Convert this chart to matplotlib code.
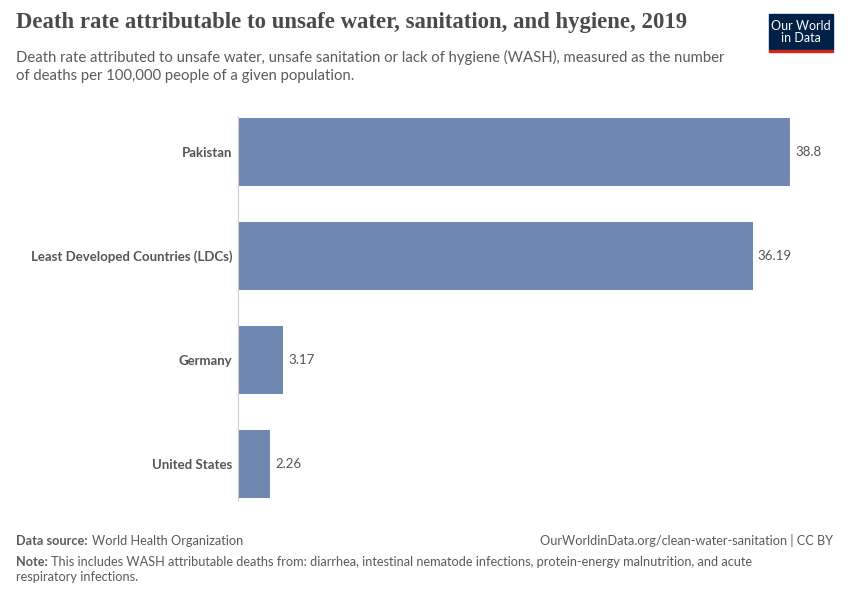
import matplotlib.pyplot as plt
from matplotlib.patches import Rectangle

countries = ['Pakistan', 'Least Developed Countries (LDCs)', 'Germany', 'United States']
death_rates = [38.8, 36.19, 3.17, 2.26]
value_labels = ['38.8', '36.19', '3.17', '2.26']

fig = plt.figure(figsize=(8.5, 6), dpi=100)
ax = fig.add_axes([0.28, 0.166, 0.6494, 0.6413])

ypos = list(range(len(countries)))
ax.barh(ypos, death_rates, height=0.654, color='#6f88b0')
ax.set_xlim(0, 38.8)
ax.set_ylim(3.35, -0.35)

for y, v, lab in zip(ypos, death_rates, value_labels):
    ax.text(v + 0.35, y, lab, va='center', ha='left', fontsize=9.5,
            color='#555555', family='Lato')

ax.set_yticks(ypos)
ax.set_yticklabels(countries, fontsize=9.5, color='#555555', family='Lato',
                   fontweight='bold')
ax.tick_params(axis='y', length=0, pad=4)
ax.set_xticks([])
for s in ['top', 'right', 'bottom']:
    ax.spines[s].set_visible(False)
ax.spines['left'].set_color('#cccccc')

fig.text(16 / 850, 1 - 28 / 600, 'Death rate attributable to unsafe water, sanitation, and hygiene, 2019',
         fontsize=16.4, fontweight='bold', family='Liberation Serif', color='#4a4a4a',
         va='baseline')
fig.text(16 / 850, 1 - 62 / 600,
         'Death rate attributed to unsafe water, unsafe sanitation or lack of hygiene (WASH), measured as the number',
         fontsize=10.7, family='Lato', color='#5b5b5b', va='baseline')
fig.text(16 / 850, 1 - 80 / 600, 'of deaths per 100,000 people of a given population.',
         fontsize=10.7, family='Lato', color='#5b5b5b', va='baseline')

# footer
fs = 9.2
fig.text(16 / 850, 1 - 545 / 600, 'Data source:', fontsize=fs, family='Lato',
         color='#5b5b5b', va='baseline', fontweight='bold')
fig.text(92 / 850, 1 - 545 / 600, 'World Health Organization', fontsize=fs, family='Lato',
         color='#5b5b5b', va='baseline')
fig.text(833 / 850, 1 - 545 / 600, 'OurWorldinData.org/clean-water-sanitation | CC BY',
         fontsize=fs, family='Lato', color='#5b5b5b', va='baseline', ha='right')
fig.text(16 / 850, 1 - 566 / 600, 'Note:', fontsize=fs, family='Lato', color='#5b5b5b',
         va='baseline', fontweight='bold')
fig.text(51 / 850, 1 - 566 / 600,
         'This includes WASH attributable deaths from: diarrhea, intestinal nematode infections, '
         'protein-energy malnutrition, and acute',
         fontsize=fs, family='Lato', color='#5b5b5b', va='baseline')
fig.text(16 / 850, 1 - 581 / 600, 'respiratory infections.',
         fontsize=fs, family='Lato', color='#5b5b5b', va='baseline')

# logo
fig.patches.append(Rectangle((769 / 850, 1 - 50 / 600), 64 / 850, 36 / 600,
                             transform=fig.transFigure, color='#002147'))
fig.patches.append(Rectangle((769 / 850, 1 - 52 / 600), 64 / 850, 2.5 / 600,
                             transform=fig.transFigure, color='#ce261e'))
fig.text(801 / 850, 1 - 32 / 600, 'Our World\nin Data', fontsize=9, family='Lato',
         color='white', ha='center', va='center', linespacing=1.0)

fig.savefig('out.png', dpi=100)
